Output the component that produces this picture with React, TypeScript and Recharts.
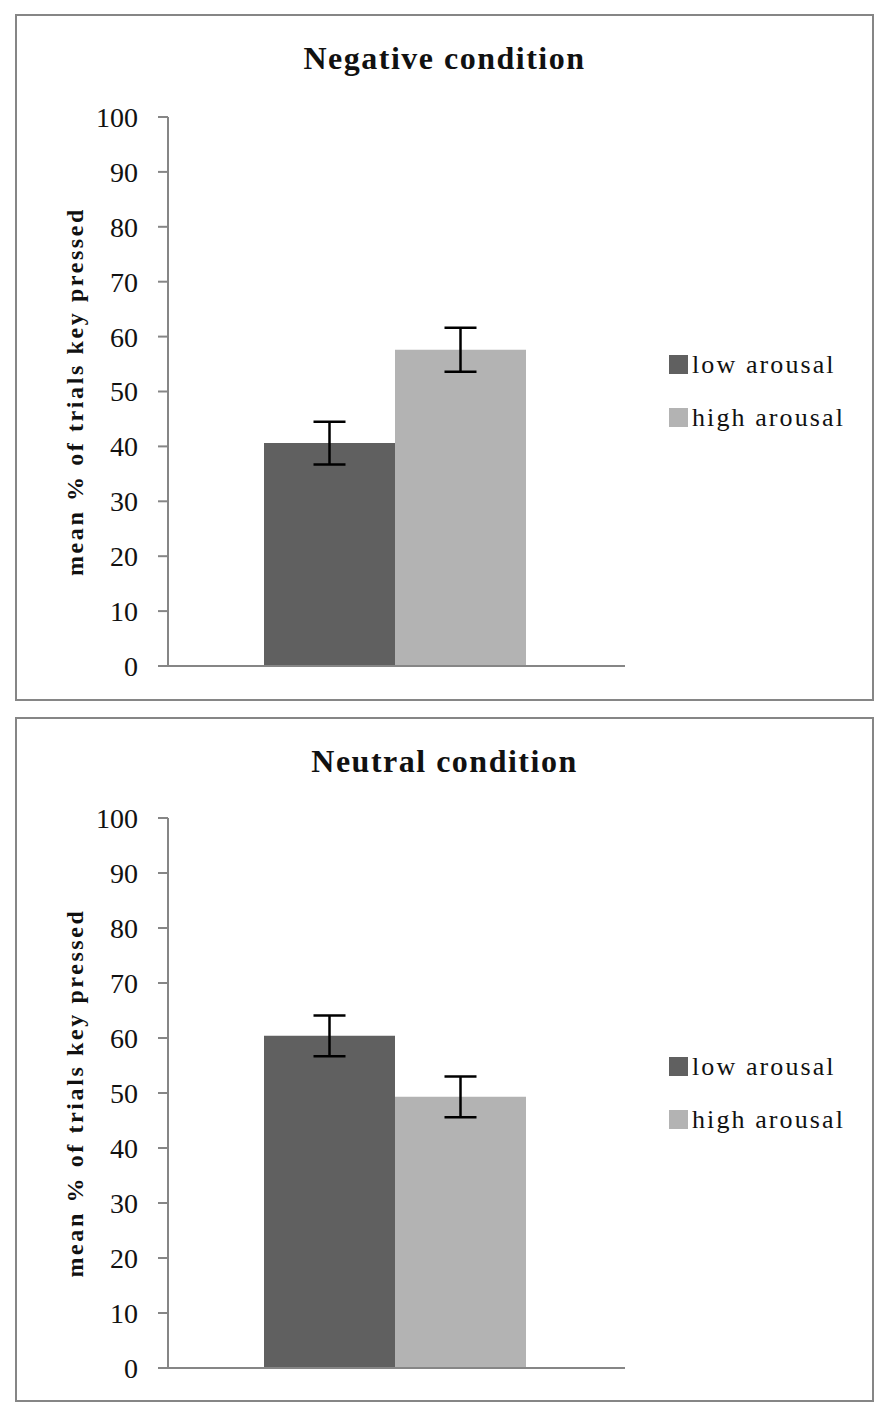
import React from 'react';
import { BarChart, Bar, XAxis, YAxis, ErrorBar } from 'recharts';

// values
const conditions = ['Negative condition', 'Neutral condition'];
const lowArousal = [40.6, 60.4];
const highArousal = [57.6, 49.3];
const lowArousalErr = [3.9, 3.7];
const highArousalErr = [4.0, 3.7];
const yTicks = [0, 10, 20, 30, 40, 50, 60, 70, 80, 90, 100];
const seriesNames = ['low arousal', 'high arousal'];

const DARK = '#606060';
const LIGHT = '#b3b3b3';
const AXIS = '#868686';
const SERIF = "'Liberation Serif', 'Times New Roman', serif";

const CHART_W = 892;
const CHART_H = 710;

// per-panel layout (page coordinates)
const panels = [
  { top: 0, boxTop: 14, boxH: 687, plotTop: 117, plotBottom: 666, titleTop: 42, legendTop: 338 },
  { top: 703, boxTop: 717, boxH: 685, plotTop: 115, plotBottom: 665, titleTop: 745, legendTop: 1040 },
];

const YLabel = ({ viewBox }: any) => {
  const cy = viewBox.y + viewBox.height / 2;
  return (
    <text
      x={75}
      y={cy}
      transform={`rotate(-90 75 ${cy})`}
      textAnchor="middle"
      dominantBaseline="central"
      fontFamily={SERIF}
      fontWeight="bold"
      fontSize={24}
      letterSpacing={2.6}
      fill="#111"
    >
      mean % of trials key pressed
    </text>
  );
};

const Panel = ({ index }: { index: number }) => {
  const p = panels[index];
  const data = [
    {
      name: conditions[index],
      low: lowArousal[index],
      lowErr: lowArousalErr[index],
      high: highArousal[index],
      highErr: highArousalErr[index],
    },
  ];

  return (
    <>
      <div
        style={{
          position: 'absolute',
          left: 15,
          top: p.boxTop,
          width: 859,
          height: p.boxH,
          border: `2px solid ${AXIS}`,
          boxSizing: 'border-box',
        }}
      />
      <div
        style={{
          position: 'absolute',
          left: 15,
          width: 859,
          top: p.titleTop,
          textAlign: 'center',
          fontFamily: SERIF,
          fontWeight: 'bold',
          fontSize: 32,
          lineHeight: '32px',
          letterSpacing: 1.5,
          color: '#111',
        }}
      >
        {conditions[index]}
      </div>
      <div style={{ position: 'absolute', left: 0, top: p.top }}>
        <BarChart
          width={CHART_W}
          height={CHART_H}
          data={data}
          margin={{ top: p.plotTop, right: 267, bottom: CHART_H - p.plotBottom - 1, left: 0 }}
          barGap={0}
        >
          <XAxis
            dataKey="name"
            height={1}
            tick={false}
            tickLine={false}
            padding={{ left: 0, right: 4 }}
            axisLine={{ stroke: AXIS, strokeWidth: 2 }}
          />
          <YAxis
            width={168}
            domain={[0, 100]}
            ticks={yTicks}
            interval={0}
            tickSize={10}
            tickMargin={20}
            axisLine={{ stroke: AXIS, strokeWidth: 2 }}
            tickLine={{ stroke: AXIS, strokeWidth: 2 }}
            tick={{ fill: '#111', fontSize: 28, fontFamily: SERIF }}
            label={<YLabel />}
          />
          <Bar dataKey="low" fill={DARK} barSize={131} isAnimationActive={false}>
            <ErrorBar dataKey="lowErr" width={16} stroke="#000" strokeWidth={2.5} />
          </Bar>
          <Bar dataKey="high" fill={LIGHT} barSize={131} isAnimationActive={false}>
            <ErrorBar dataKey="highErr" width={16} stroke="#000" strokeWidth={2.5} />
          </Bar>
        </BarChart>
      </div>
      <div
        style={{
          position: 'absolute',
          left: 669,
          top: p.legendTop,
          fontFamily: SERIF,
          fontSize: 26,
          letterSpacing: 2.1,
          color: '#111',
        }}
      >
        {seriesNames.map((s, i) => (
          <div key={s} style={{ display: 'flex', alignItems: 'center', height: 53 }}>
            <span
              style={{
                display: 'inline-block',
                width: 19,
                height: 19,
                background: i === 0 ? DARK : LIGHT,
                marginRight: 4,
              }}
            />
            <span>{s}</span>
          </div>
        ))}
      </div>
    </>
  );
};

export default function App() {
  return (
    <div style={{ position: 'absolute', left: 0, top: 0, width: 892, height: 1419, background: '#fff' }}>
      <Panel index={0} />
      <Panel index={1} />
    </div>
  );
}
